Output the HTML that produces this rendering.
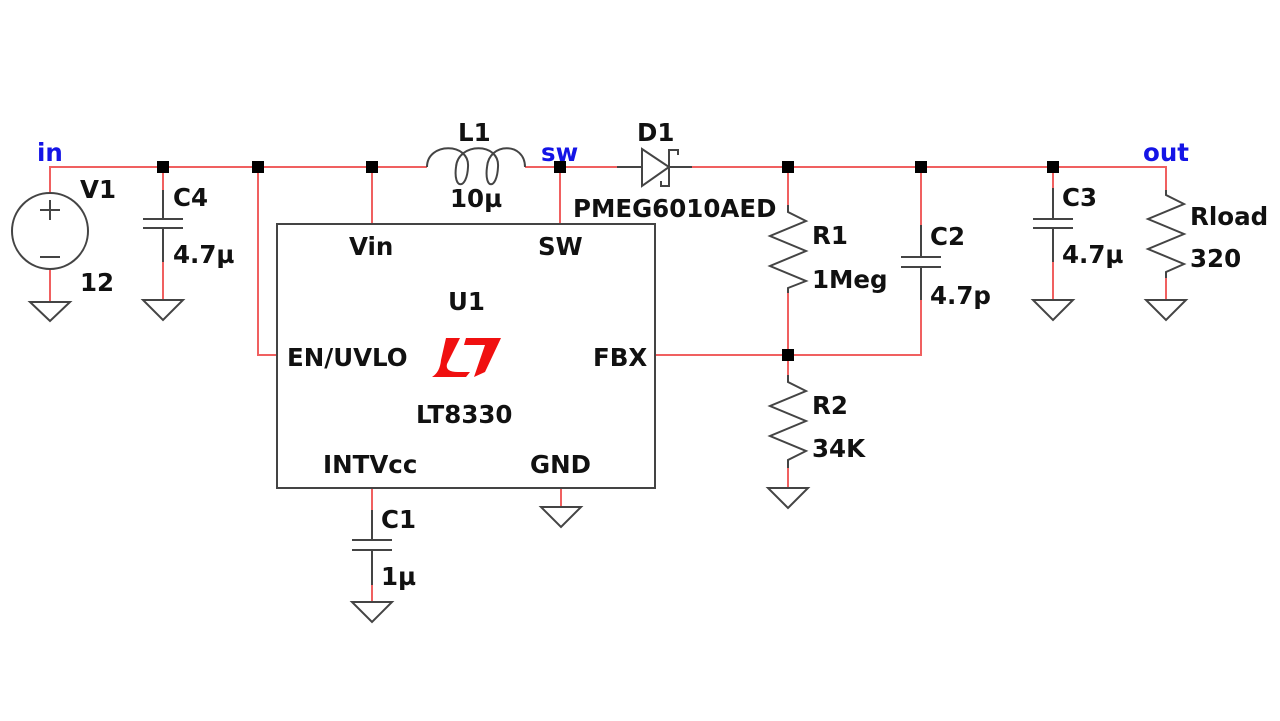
<!DOCTYPE html>
<html><head><meta charset="utf-8"><style>
html,body{margin:0;padding:0;background:#fff}
svg{display:block}
text{font-family:"DejaVu Sans","Liberation Sans",sans-serif;font-weight:bold;font-size:24.5px;fill:#111}
.b{fill:#1414e6}
</style></head><body>
<svg width="1280" height="721" viewBox="0 0 1280 721" xmlns="http://www.w3.org/2000/svg">
<g fill="none" stroke="#f06060" stroke-width="2">
<polyline points="50,193 50,167 427,167"/>
<polyline points="525,167 617,167"/>
<polyline points="692,167 1166,167 1166,190"/>
<line x1="50" y1="269" x2="50" y2="302"/>
<line x1="163" y1="167" x2="163" y2="190"/>
<line x1="163" y1="262" x2="163" y2="300"/>
<polyline points="258,167 258,355 277,355"/>
<line x1="372" y1="167" x2="372" y2="224"/>
<line x1="560" y1="167" x2="560" y2="224"/>
<line x1="788" y1="167" x2="788" y2="205"/>
<line x1="788" y1="293" x2="788" y2="375"/>
<line x1="788" y1="468" x2="788" y2="488"/>
<polyline points="655,355 921,355 921,300"/>
<line x1="921" y1="167" x2="921" y2="225"/>
<line x1="1053" y1="167" x2="1053" y2="188"/>
<line x1="1053" y1="262" x2="1053" y2="300"/>
<line x1="1166" y1="278" x2="1166" y2="300"/>
<line x1="372" y1="488" x2="372" y2="510"/>
<line x1="372" y1="585" x2="372" y2="602"/>
<line x1="561" y1="488" x2="561" y2="507"/>
</g>
<g fill="none" stroke="#444" stroke-width="2">
<rect x="277" y="224" width="378" height="264"/>
<circle cx="50" cy="231" r="38"/>
<line x1="40" y1="210" x2="60" y2="210"/><line x1="50" y1="200" x2="50" y2="220"/>
<line x1="40" y1="257" x2="60" y2="257"/>
<line x1="163" y1="190" x2="163" y2="219"/><line x1="143" y1="219" x2="183" y2="219"/>
<line x1="143" y1="228" x2="183" y2="228"/><line x1="163" y1="228" x2="163" y2="262"/>
<line x1="921" y1="225" x2="921" y2="257"/><line x1="901" y1="257" x2="941" y2="257"/>
<line x1="901" y1="267" x2="941" y2="267"/><line x1="921" y1="267" x2="921" y2="300"/>
<line x1="1053" y1="188" x2="1053" y2="219"/><line x1="1033" y1="219" x2="1073" y2="219"/>
<line x1="1033" y1="228" x2="1073" y2="228"/><line x1="1053" y1="228" x2="1053" y2="262"/>
<line x1="372" y1="510" x2="372" y2="540"/><line x1="352" y1="540" x2="392" y2="540"/>
<line x1="352" y1="550" x2="392" y2="550"/><line x1="372" y1="550" x2="372" y2="585"/>
<polyline points="788,205 788,212 806,221 770,236 806,251 770,266 806,281 788,288 788,293"/>
<polyline points="788,375 788,382 806,391 770,406 806,421 770,436 806,451 788,460 788,468"/>
<polyline points="1166,190 1166,195 1184,204 1148,219 1184,234 1148,249 1184,264 1166,272 1166,278"/>
<line x1="617" y1="167" x2="642" y2="167"/>
<polygon points="642,149 669,167 642,186"/>
<polyline points="678,155 678,150 669,150 669,186 661,186 661,181"/>
<line x1="669" y1="167" x2="692" y2="167"/>
<path d="M427,167 C427,142 470,142 468,167 C467,190 453,190 456,167 C458,142 500,142 498,167 C497,190 484,190 487,167 C489,142 525,142 525,167"/>
<polygon points="30,302 70,302 50,321"/>
<polygon points="143,300 183,300 163,320"/>
<polygon points="1033,300 1073,300 1053,320"/>
<polygon points="1146,300 1186,300 1166,320"/>
<polygon points="768,488 808,488 788,508"/>
<polygon points="541,507 581,507 561,527"/>
<polygon points="352,602 392,602 372,622"/>
</g>
<g fill="#000">
<rect x="157" y="161" width="12" height="12"/><rect x="252" y="161" width="12" height="12"/>
<rect x="366" y="161" width="12" height="12"/><rect x="554" y="161" width="12" height="12"/>
<rect x="782" y="161" width="12" height="12"/><rect x="915" y="161" width="12" height="12"/>
<rect x="1047" y="161" width="12" height="12"/><rect x="782" y="349" width="12" height="12"/>
</g>
<g fill="#f01010">
<path d="M446,338 L460,338 L447,364 Q445,372 458,372 L470,372 L466,377 L432,377 Q440,372 441,360 Z"/>
<path d="M466,338 L501,338 L485,372 L474,377 L485,345 L464,345 Z"/>
</g>
<text class="b" x="37" y="161">in</text>
<text class="b" x="541" y="161">sw</text>
<text class="b" x="1143" y="161">out</text>
<text x="80" y="198">V1</text><text x="80" y="291">12</text>
<text x="173" y="206">C4</text><text x="173" y="263">4.7µ</text>
<text x="458" y="141">L1</text><text x="450" y="207">10µ</text>
<text x="637" y="141">D1</text><text x="573" y="217">PMEG6010AED</text>
<text x="349" y="255">Vin</text><text x="538" y="255">SW</text>
<text x="448" y="310">U1</text>
<text x="287" y="366">EN/UVLO</text><text x="593" y="366">FBX</text>
<text x="416" y="423">LT8330</text>
<text x="323" y="473">INTVcc</text><text x="530" y="473">GND</text>
<text x="381" y="528">C1</text><text x="381" y="585">1µ</text>
<text x="812" y="244">R1</text><text x="812" y="288">1Meg</text>
<text x="930" y="245">C2</text><text x="930" y="304">4.7p</text>
<text x="812" y="414">R2</text><text x="812" y="457">34K</text>
<text x="1062" y="206">C3</text><text x="1062" y="263">4.7µ</text>
<text x="1190" y="225">Rload</text><text x="1190" y="267">320</text>
</svg>
</body></html>
